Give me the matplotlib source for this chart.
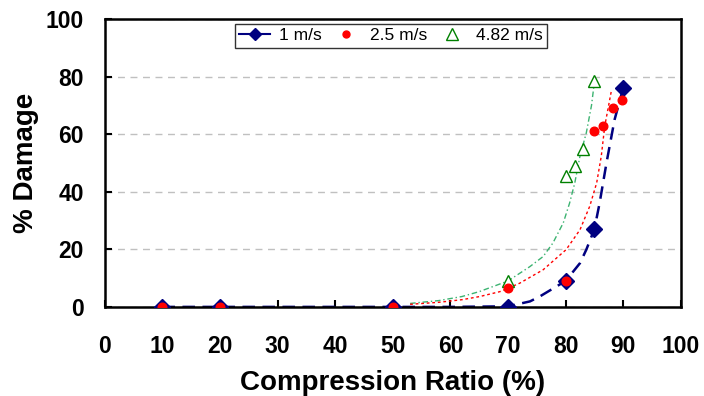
import matplotlib
matplotlib.use("Agg")
import matplotlib.pyplot as plt
from matplotlib.lines import Line2D

plt.rcParams['font.family'] = ['Liberation Sans', 'DejaVu Sans']

# measured points
x_1 = [10, 20, 50, 70, 80, 85, 90]
y_1 = [0, 0, 0, 0, 9, 27, 76]

x_25 = [10, 20, 50, 70, 80, 85, 86.5, 88.2, 89.8]
y_25 = [0, 0, 0, 6.5, 9, 61, 62.8, 69, 72]

x_482 = [10, 20, 50, 70, 80, 81.6, 83.1, 84.9]
y_482 = [0, 0, 0, 9, 45.5, 48.8, 55, 78.3]

# trend lines
tx_1 = [10, 30, 50, 60, 70, 73.8, 75.5, 80, 82.5, 83.6, 85, 85.9, 87.1, 88.5, 90]
ty_1 = [0, 0, 0, 0, 0.2, 1.9, 3.6, 9, 15.2, 19.9, 27, 36, 50, 65, 76]

tx_25 = [53, 58, 62, 65.1, 68.6, 72, 76.1, 80.1, 82.5, 84.2, 85.4, 86.2, 86.8, 88]
ty_25 = [0.9, 1.6, 2.5, 3.6, 5.3, 8.2, 12.9, 19.9, 26.8, 35, 43.1, 52.4, 62.8, 75.6]

tx_482 = [53, 58, 62, 65, 70, 73.8, 76.1, 77.8, 79.6, 80.7, 81.6, 82.5, 83.6, 84.5, 85.1]
ty_482 = [1.2, 2.2, 3.6, 5.3, 9, 14, 17.5, 22.2, 29.2, 36.1, 43.1, 52.4, 60.5, 70, 79.7]

navy = '#000080'
red = '#FF0000'
green = '#008000'

fig = plt.figure(figsize=(7.04, 3.96), dpi=100)
ax = fig.add_axes([0.149, 0.225, 0.818, 0.727])

ax.grid(axis='y', color='#C0C0C0', linestyle=(0, (5, 4)), linewidth=1)
ax.set_axisbelow(True)

ax.plot(tx_482, ty_482, color='#3CB371', linewidth=1, dashes=(4, 2, 1, 2), zorder=2)
ax.plot(tx_25, ty_25, color=red, linewidth=1, dashes=(2, 2), zorder=2)
ax.plot(tx_1, ty_1, color=navy, linewidth=1.8, dashes=(5, 3), zorder=2)

ax.plot(x_482, y_482, linestyle='none', marker='^', markersize=9,
        markerfacecolor='white', markeredgecolor=green, markeredgewidth=1, zorder=3)
ax.plot(x_1, y_1, linestyle='none', marker='D', markersize=8,
        color=navy, zorder=4)
ax.plot(x_25, y_25, linestyle='none', marker='o', markersize=6.2,
        color=red, zorder=5)

ax.set_xlim(0, 100)
ax.set_ylim(0, 100)
ax.set_xticks(range(0, 101, 10))
ax.set_yticks(range(0, 101, 20))
ax.tick_params(direction='in', length=5, width=1.5, labelsize=16.5)
ax.tick_params(axis='x', pad=20)
ax.tick_params(axis='y', pad=15)
for lab in ax.get_xticklabels() + ax.get_yticklabels():
    lab.set_fontweight('bold')
for s in ax.spines.values():
    s.set_linewidth(1.8)

ax.set_xlabel('Compression Ratio (%)', fontsize=20, fontweight='bold', labelpad=9)
ax.set_ylabel('% Damage', fontsize=20, fontweight='bold', labelpad=5)

handles = [
    Line2D([], [], color=navy, linewidth=1.5, marker='D', markersize=6),
    Line2D([], [], color=red, linestyle='none', marker='o', markersize=5),
    Line2D([], [], color=green, linestyle='none', marker='^', markersize=8,
           markerfacecolor='white', markeredgewidth=1),
]
leg = ax.legend(handles, ['1 m/s', '2.5 m/s', '4.82 m/s'], ncol=3,
                loc='upper center', bbox_to_anchor=(0.497, 0.983),
                borderaxespad=0, fontsize=12.5, frameon=True, fancybox=False,
                handlelength=1.8, columnspacing=0.5, handletextpad=0.5,
                borderpad=0.25)
leg.get_frame().set_edgecolor('black')
leg.get_frame().set_linewidth(1)

fig.savefig('out.png', dpi=100)
